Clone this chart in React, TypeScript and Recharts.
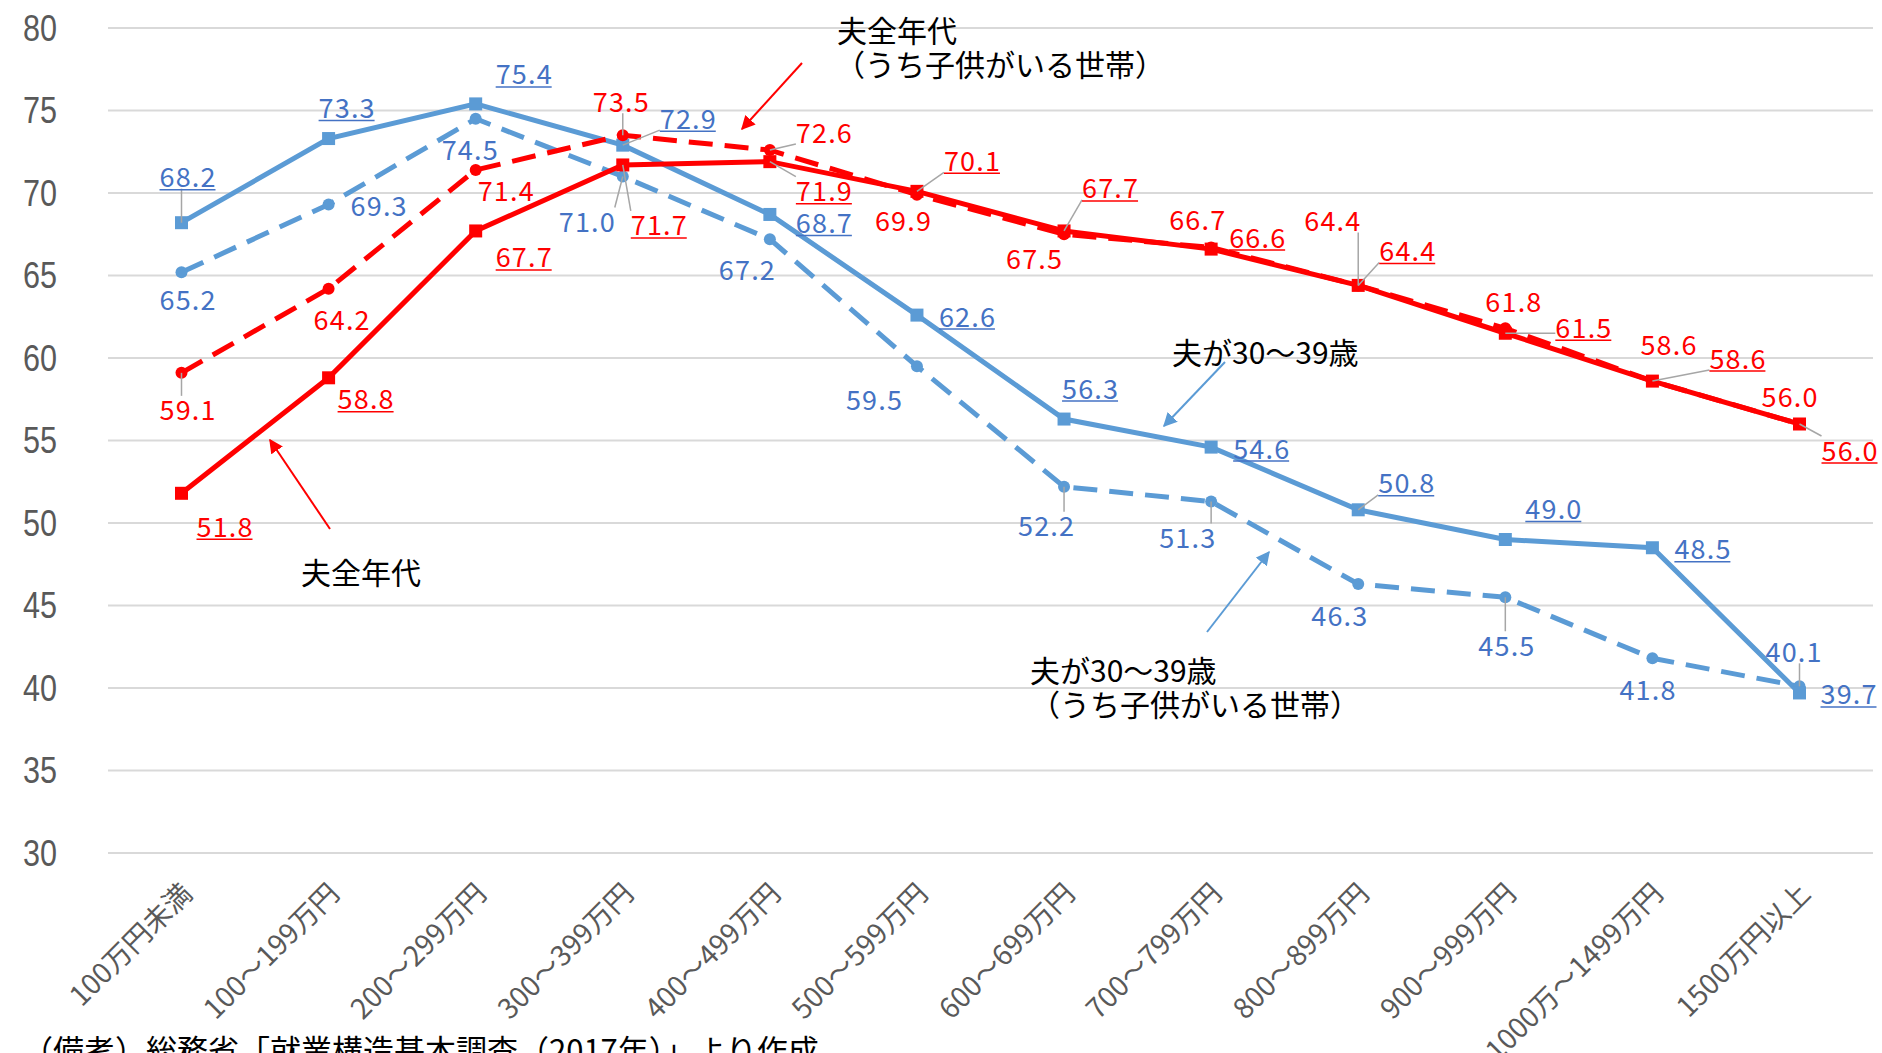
import React from 'react';
import { LineChart, Line, XAxis, YAxis, CartesianGrid } from 'recharts';

// ---- data ----
const categories = [
  '100万円未満',
  '100～199万円',
  '200～299万円',
  '300～399万円',
  '400～499万円',
  '500～599万円',
  '600～699万円',
  '700～799万円',
  '800～899万円',
  '900～999万円',
  '1000万～1499万円',
  '1500万円以上',
];
// 夫全年代
const allAges = [51.8, 58.8, 67.7, 71.7, 71.9, 70.1, 67.7, 66.6, 64.4, 61.5, 58.6, 56.0];
// 夫全年代（うち子供がいる世帯）
const allAgesWithChildren = [59.1, 64.2, 71.4, 73.5, 72.6, 69.9, 67.5, 66.7, 64.4, 61.8, 58.6, 56.0];
// 夫が30～39歳
const age30s = [68.2, 73.3, 75.4, 72.9, 68.7, 62.6, 56.3, 54.6, 50.8, 49.0, 48.5, 39.7];
// 夫が30～39歳（うち子供がいる世帯）
const age30sWithChildren = [65.2, 69.3, 74.5, 71.0, 67.2, 59.5, 52.2, 51.3, 46.3, 45.5, 41.8, 40.1];
const yTicks = [30, 35, 40, 45, 50, 55, 60, 65, 70, 75, 80];

const data = categories.map((cat, i) => ({
  cat,
  allAges: allAges[i],
  allAgesWithChildren: allAgesWithChildren[i],
  age30s: age30s[i],
  age30sWithChildren: age30sWithChildren[i],
}));

// ---- label layout (offsets from the drawn point, px) ----
const offA30 = [[6, -47], [18, -32], [48, -31], [65, -28], [54, 7], [50, 0], [26, -32], [50, 0], [48, -28], [48, -32], [50, 0], [49, 0]];
const leadA30 = [1, 0, 0, 1, 0, 0, 0, 0, 1, 0, 0, 0];
const offA30C = [[6, 26], [50, 0], [-6, 30], [-36, 44], [-23, 29], [-43, 32], [-18, 38], [-24, 35], [-19, 30], [1, 47], [-5, 30], [-6, -36]];
const leadA30C = [0, 0, 0, 1, 0, 0, 1, 1, 0, 1, 0, 1];
const offAll = [[43, 32], [37, 20], [48, 25], [36, 59], [54, 28], [55, -32], [46, -44], [46, -13], [49, -36], [78, -7], [85, -24], [50, 25]];
const leadAll = [0, 0, 0, 1, 1, 1, 1, 0, 1, 1, 1, 1];
const offAllC = [[6, 36], [13, 30], [30, 20], [-2, -35], [54, -19], [-14, 25], [-30, 23], [-14, -29], [-26, -66], [8, -28], [16, -38], [-10, -29]];
const leadAllC = [1, 0, 0, 1, 1, 0, 0, 0, 1, 0, 0, 0];

const RED = '#FF0000';
const BLUE = '#5B9BD5';
const BLUE_TEXT = '#4472C4';
const FONT = '"Noto Sans CJK JP", "Noto Sans", sans-serif';

const clamp = (v: number, lo: number, hi: number) => Math.max(lo, Math.min(hi, v));

const makeLabel = (offsets: number[][], leaders: number[], color: string, underline: boolean) => (p: any) => {
  const idx = p.index ?? 0;
  const vb = p.viewBox || {};
  const px = typeof p.x === 'number' ? p.x : vb.x;
  const py = typeof p.y === 'number' ? p.y : vb.y;
  if (typeof px !== 'number' || typeof py !== 'number') return null;
  const [dx, dy] = offsets[idx] || [0, -20];
  const lx = px + dx;
  const ly = py + dy;
  const hw = 28;
  const hh = 13;
  const ex = clamp(px, lx - hw, lx + hw);
  const ey = clamp(py, ly - hh, ly + hh);
  const val = Number(p.value).toFixed(1);
  return (
    <g key={`lbl-${idx}`}>
      {leaders[idx] ? <line x1={px} y1={py} x2={ex} y2={ey} stroke="#A6A6A6" strokeWidth={1.5} /> : null}
      <text
        x={lx}
        y={ly}
        textAnchor="middle"
        dominantBaseline="central"
        fontSize={27}
        fontFamily={FONT}
        fill={color}
        textLength={56}
        lengthAdjust="spacing"
      >
        {val}
      </text>
      {underline ? <line x1={lx - 28} y1={ly + 14} x2={lx + 28} y2={ly + 14} stroke={color} strokeWidth={1.5} /> : null}
    </g>
  );
};

const squareDot = (color: string) => (p: any) => {
  if (typeof p.cx !== 'number') return <g key={`d-${p.index}`} />;
  return <rect key={`d-${p.index}`} x={p.cx - 6.5} y={p.cy - 6.5} width={13} height={13} fill={color} />;
};
const circleDot = (color: string) => (p: any) => {
  if (typeof p.cx !== 'number') return <g key={`d-${p.index}`} />;
  return <circle key={`d-${p.index}`} cx={p.cx} cy={p.cy} r={6} fill={color} />;
};

const XTick = (props: any) => {
  const { x, y, payload } = props;
  const tx = x + 4;
  const ty = y + 26;
  return (
    <text
      x={tx}
      y={ty}
      transform={`rotate(-45, ${tx}, ${ty})`}
      textAnchor="end"
      dominantBaseline="central"
      fontSize={28}
      fontFamily={FONT}
      fill="#595959"
    >
      {payload.value}
    </text>
  );
};

const YTick = (props: any) => {
  const { y, payload } = props;
  return (
    <text
      x={57}
      y={y}
      textAnchor="end"
      dominantBaseline="central"
      fontSize={37}
      fontFamily='"Liberation Sans", Arial, sans-serif'
      fill="#595959"
      textLength={34}
      lengthAdjust="spacingAndGlyphs"
    >
      {payload.value}
    </text>
  );
};

const Annotations = () => (
  <svg
    width={1882}
    height={1053}
    style={{ position: 'absolute', left: 0, top: 0, pointerEvents: 'none' }}
  >
    <defs>
      <marker id="arrRed" viewBox="0 0 10 10" refX="9" refY="5" markerWidth="7" markerHeight="7" orient="auto">
        <path d="M0,0 L10,5 L0,10 z" fill={RED} />
      </marker>
      <marker id="arrBlue" viewBox="0 0 10 10" refX="9" refY="5" markerWidth="7" markerHeight="7" orient="auto">
        <path d="M0,0 L10,5 L0,10 z" fill={BLUE} />
      </marker>
    </defs>
    <g fontFamily={FONT} fontSize={30} fill="#000">
      <text x={837} y={29} dominantBaseline="central">夫全年代</text>
      <text x={835} y={63} dominantBaseline="central">（うち子供がいる世帯）</text>
      <text x={301} y={571} dominantBaseline="central">夫全年代</text>
      <text x={1172} y={351} dominantBaseline="central">夫が30～39歳</text>
      <text x={1030} y={669} dominantBaseline="central">夫が30～39歳</text>
      <text x={1030} y={703} dominantBaseline="central">（うち子供がいる世帯）</text>
    </g>
    <line x1={802} y1={63} x2={742} y2={129} stroke={RED} strokeWidth={2} markerEnd="url(#arrRed)" />
    <line x1={330} y1={529} x2={270} y2={440} stroke={RED} strokeWidth={2} markerEnd="url(#arrRed)" />
    <line x1={1225} y1={362} x2={1164} y2={426} stroke={BLUE} strokeWidth={2} markerEnd="url(#arrBlue)" />
    <line x1={1207} y1={632} x2={1269} y2={552} stroke={BLUE} strokeWidth={2} markerEnd="url(#arrBlue)" />
    <text x={22} y={1062} fontFamily={FONT} fontSize={31} fill="#000">
      （備考）総務省「就業構造基本調査（2017年）」より作成
    </text>
  </svg>
);

export default function App() {
  return (
    <div
      style={{
        position: 'absolute',
        left: 0,
        top: 0,
        width: 1882,
        height: 1053,
        background: '#fff',
        overflow: 'hidden',
      }}
    >
      <LineChart
        width={1882}
        height={1053}
        data={data}
        margin={{ top: 28, right: 9, left: 0, bottom: 0 }}
      >
        <CartesianGrid horizontal vertical={false} stroke="#D9D9D9" strokeWidth={2} />
        <XAxis
          dataKey="cat"
          type="category"
          interval={0}
          height={200}
          axisLine={false}
          tickLine={false}
          padding={{ left: 73.5, right: 73.5 }}
          tick={<XTick />}
        />
        <YAxis
          type="number"
          domain={[30, 80]}
          ticks={yTicks}
          width={108}
          axisLine={false}
          tickLine={false}
          tick={<YTick />}
        />
        <Line
          dataKey="age30sWithChildren"
          stroke={BLUE}
          strokeWidth={5}
          strokeDasharray="24 12"
          dot={circleDot(BLUE)}
          activeDot={false}
          isAnimationActive={false}
          label={makeLabel(offA30C, leadA30C, BLUE_TEXT, false)}
        />
        <Line
          dataKey="age30s"
          stroke={BLUE}
          strokeWidth={5}
          dot={squareDot(BLUE)}
          activeDot={false}
          isAnimationActive={false}
          label={makeLabel(offA30, leadA30, BLUE_TEXT, true)}
        />
        <Line
          dataKey="allAgesWithChildren"
          stroke={RED}
          strokeWidth={5}
          strokeDasharray="24 12"
          dot={circleDot(RED)}
          activeDot={false}
          isAnimationActive={false}
          label={makeLabel(offAllC, leadAllC, RED, false)}
        />
        <Line
          dataKey="allAges"
          stroke={RED}
          strokeWidth={5}
          dot={squareDot(RED)}
          activeDot={false}
          isAnimationActive={false}
          label={makeLabel(offAll, leadAll, RED, true)}
        />
      </LineChart>
      <Annotations />
    </div>
  );
}
